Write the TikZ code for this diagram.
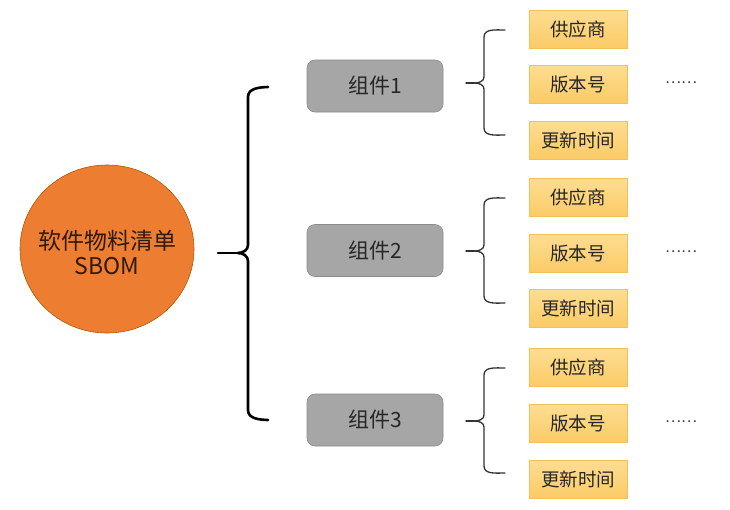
\documentclass[tikz,border=0pt]{standalone}
\usepackage{fontspec}
\setmainfont{Noto Sans CJK SC}
\begin{document}
\begin{tikzpicture}[x=1pt,y=-1pt,
  rootshape/.style={draw=orange!70!black,line width=0.6pt,fill=sborange},
  roottext/.style={inner sep=0pt,text=sbtext,font=\fontsize{23}{27}\selectfont,align=center},
  comp/.style={rectangle,rounded corners=8pt,draw=compborder,line width=0.6pt,fill=compfill,minimum width=136pt,minimum height=52pt,inner sep=0pt,text=comptext,font=\fontsize{21}{24}\selectfont},
  attr/.style={rectangle,draw=attrborder,line width=0.6pt,top color=attrtop,bottom color=attrbot,minimum width=98pt,minimum height=38pt,inner sep=0pt,text=attrtext,font=\fontsize{18.5}{20}\selectfont},
  dotsl/.style={inner sep=0pt,text=dottext,font=\fontsize{15}{16}\selectfont},
  bigbrace/.style={line width=2.6pt,black,line cap=round},
  smallbrace/.style={line width=1.3pt,bracegray,line cap=round}
]
\definecolor{sborange}{HTML}{ED7D31}
\definecolor{sbtext}{HTML}{2E1A0E}
\definecolor{compfill}{HTML}{A6A6A6}
\definecolor{compborder}{HTML}{8C8C8C}
\definecolor{comptext}{HTML}{262626}
\definecolor{attrborder}{HTML}{F3C15C}
\definecolor{attrtop}{HTML}{FDDD92}
\definecolor{attrbot}{HTML}{FBCB66}
\definecolor{attrtext}{HTML}{262626}
\definecolor{dottext}{HTML}{404040}
\definecolor{bracegray}{HTML}{333333}
\useasboundingbox (0,0) rectangle (730,509);
\fill[white] (0,0) rectangle (730,509);

\path[rootshape] (107,249) ellipse [x radius=87, y radius=84];
\node[roottext] (root) at (107,252) {软件物料清单\\[-2pt]SBOM};

% big brace
\coordinate (bt) at (268,87);
\coordinate (bb) at (268,420);
\coordinate (btip) at (218,253);
\draw[bigbrace] (bt) to[out=182,in=90] (248,97) -- (248,245) to[out=-90,in=0] (238,253);
\draw[bigbrace] (238,253) to[out=0,in=90] (248,261) -- (248,410) to[out=-90,in=178] (bb);
\draw[bigbrace] (btip) -- (238,253);

\node[comp] (c1) at (375,86) {组件1};
\node[comp] (c2) at (375,250.5) {组件2};
\node[comp] (c3) at (375,420) {组件3};

\foreach \i/\t/\b/\m/\ya/\yb/\yc in {1/30/135/83/29/84/140, 2/198/303/251/197.5/253.5/308, 3/368/473/421/367.5/423.5/479}{
  \coordinate (st\i) at (505,\t);
  \coordinate (sb\i) at (505,\b);
  \coordinate (stip\i) at (466,\m);
  \draw[smallbrace] (st\i) to[out=180,in=90] (484,\t+7) -- (484,\m-6) to[out=-90,in=0] (474,\m);
  \draw[smallbrace] (474,\m) to[out=0,in=90] (484,\m+6) -- (484,\b-7) to[out=-90,in=180] (sb\i);
  \draw[smallbrace] (stip\i) -- (474,\m);
  \node[attr] (v\i) at (578,\ya) {供应商};
  \node[attr] (n\i) at (578,\yb) {版本号};
  \node[attr] (u\i) at (578,\yc) {更新时间};
  \node[dotsl] (d\i) at (681,\yb-1.5) {……};
}
\end{tikzpicture}
\end{document}
